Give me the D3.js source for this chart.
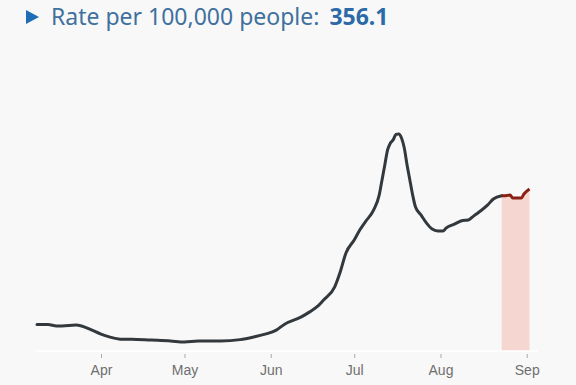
<!DOCTYPE html>
<html>
<head>
<meta charset="utf-8">
<script src="https://cdn.jsdelivr.net/npm/d3@7"></script>
<style>
  html, body { margin: 0; padding: 0; background: #f8f8f8; }
  svg { display: block; }
</style>
</head>
<body>
<svg id="chart" width="576" height="385"></svg>
<script>
// daily rate per 100,000 people
const dates = [
  "2020-03-09", "2020-03-13", "2020-03-16", "2020-03-18", "2020-03-23", "2020-03-25",
  "2020-03-28", "2020-04-01", "2020-04-04", "2020-04-08", "2020-04-12", "2020-04-19",
  "2020-04-26", "2020-05-01", "2020-05-06", "2020-05-14", "2020-05-21", "2020-05-26",
  "2020-05-30", "2020-06-03", "2020-06-06", "2020-06-12", "2020-06-15", "2020-06-18",
  "2020-06-20", "2020-06-24", "2020-06-26", "2020-06-28", "2020-07-01", "2020-07-03",
  "2020-07-05", "2020-07-08", "2020-07-10", "2020-07-11", "2020-07-12", "2020-07-13",
  "2020-07-14", "2020-07-15", "2020-07-16", "2020-07-17", "2020-07-18", "2020-07-19",
  "2020-07-20", "2020-07-21", "2020-07-22", "2020-07-23", "2020-07-25", "2020-07-27",
  "2020-07-29", "2020-07-31", "2020-08-02", "2020-08-03", "2020-08-06", "2020-08-09",
  "2020-08-11", "2020-08-13", "2020-08-15", "2020-08-18", "2020-08-20", "2020-08-23"
];
const rates = [
  58, 58, 55, 55, 57, 55,
  48, 37, 31, 26, 26, 24,
  22, 20, 22, 22, 25, 31,
  37, 46, 59, 75, 86, 99,
  112, 141, 174, 215, 244, 266,
  284, 310, 343, 376, 409, 442,
  457, 464, 476, 477, 468, 446,
  409, 376, 343, 317, 299, 281,
  268, 264, 264, 270, 279, 287,
  288, 297, 306, 321, 334, 341
];
// most recent days, still incomplete
const recentDates = [
  "2020-08-23", "2020-08-24", "2020-08-26", "2020-08-27", "2020-08-28",
  "2020-08-30", "2020-08-31", "2020-09-02"
];
const recentRates = [341, 341, 343, 336, 336, 336, 345, 356.1];

const monthTicks = ["2020-04-01", "2020-05-01", "2020-06-01", "2020-07-01", "2020-08-01", "2020-09-01"];
const latest = "356.1";

const parse = d3.timeParse("%Y-%m-%d");
const series = dates.map((d, i) => ({date: parse(d), value: rates[i]}));
const recent = recentDates.map((d, i) => ({date: parse(d), value: recentRates[i]}));

const svg = d3.select("#chart");

const x = d3.scaleTime()
    .domain([parse("2020-03-09"), parse("2020-09-02")])
    .range([37, 529.5]);

const y = d3.scaleLinear()
    .domain([0, 480])
    .range([351, 132.6]);

// title
svg.append("path")
    .attr("d", "M26,10 L39,17 L26,24 Z")
    .attr("fill", "#1f6db5");

const title = svg.append("text")
    .attr("x", 51)
    .attr("y", 25)
    .attr("font-family", "'Noto Sans', sans-serif")
    .attr("font-size", "23px");
title.append("tspan")
    .attr("fill", "#40709e")
    .text("Rate per 100,000 people:");
title.append("tspan")
    .attr("dx", 10)
    .attr("fill", "#2b6aa6")
    .attr("font-weight", "bold")
    .text(latest);

// shaded area for recent days
svg.append("path")
    .datum(recent)
    .attr("fill", "#f5d6d1")
    .attr("d", d3.area()
        .x(d => x(d.date))
        .y0(y(0))
        .y1(d => y(d.value)));

// baseline
svg.append("line")
    .attr("x1", 35).attr("x2", 538)
    .attr("y1", y(0)).attr("y2", y(0))
    .attr("stroke", "#ffffff")
    .attr("stroke-width", 1.5);

// x axis
const xAxis = svg.append("g")
    .attr("transform", "translate(0,354)")
    .call(d3.axisBottom(x)
        .tickValues(monthTicks.map(parse))
        .tickFormat(d3.timeFormat("%b"))
        .tickSize(4)
        .tickPadding(7));
xAxis.select(".domain").remove();
xAxis.selectAll(".tick line").attr("stroke", "#aaa");
xAxis.selectAll(".tick text")
    .attr("fill", "#6f6f6f")
    .attr("font-family", "'Liberation Sans', Arial, sans-serif")
    .attr("font-size", "14px");

// lines
const line = d3.line()
    .x(d => x(d.date))
    .y(d => y(d.value))
    .curve(d3.curveMonotoneX);

svg.append("path")
    .datum(series)
    .attr("fill", "none")
    .attr("stroke", "#33383c")
    .attr("stroke-width", 3)
    .attr("stroke-linejoin", "round")
    .attr("stroke-linecap", "round")
    .attr("d", line);

svg.append("path")
    .datum(recent)
    .attr("fill", "none")
    .attr("stroke", "#8a1f12")
    .attr("stroke-width", 3)
    .attr("stroke-linejoin", "round")
    .attr("d", line);
</script>
</body>
</html>
